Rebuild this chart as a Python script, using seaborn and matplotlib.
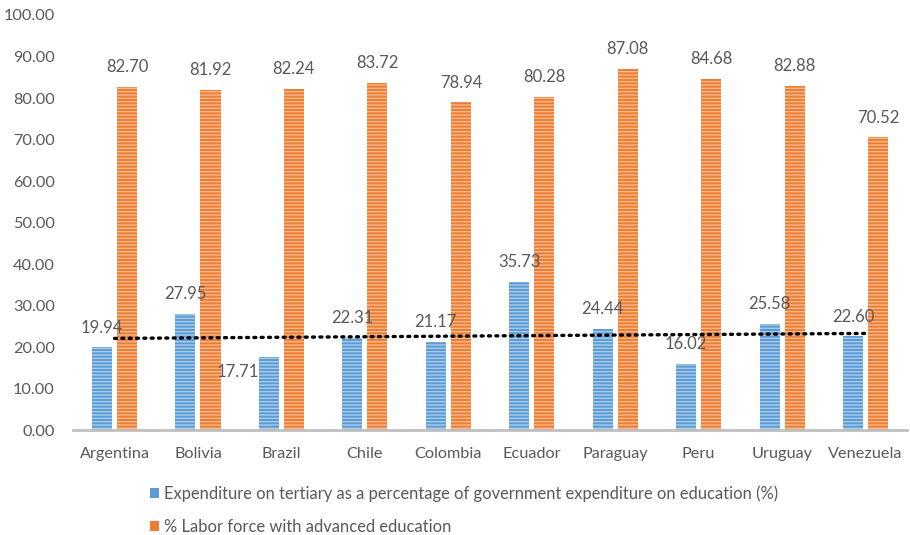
import numpy as np
import pandas as pd
import matplotlib
matplotlib.use("Agg")
import matplotlib.pyplot as plt
from matplotlib.patches import Patch
import seaborn as sns

countries = ["Argentina", "Bolivia", "Brazil", "Chile", "Colombia",
             "Ecuador", "Paraguay", "Peru", "Uruguay", "Venezuela"]
tertiary_spend = [19.94, 27.95, 17.71, 22.31, 21.17, 35.73, 24.44, 16.02, 25.58, 22.60]
labor_advanced = [82.70, 81.92, 82.24, 83.72, 78.94, 80.28, 87.08, 84.68, 82.88, 70.52]
# linear trend of the expenditure series at the first and last country
trend_ends = [22.1, 23.3]
series_names = ["Expenditure on tertiary as a percentage of government expenditure on education (%)",
                "% Labor force with advanced education"]
y_ticks = [0, 10, 20, 30, 40, 50, 60, 70, 80, 90, 100]

BLUE, BLUE_STRIPE = "#5B9BD5", "#A9CBEA"
ORANGE, ORANGE_STRIPE = "#ED7D31", "#F7B98E"
TEXT = "#595959"

sns.set_theme(style="white")
plt.rcParams["font.family"] = ["Lato", "DejaVu Sans"]
plt.rcParams["hatch.linewidth"] = 1.0

df = pd.DataFrame({
    "country": countries * 2,
    "value": tertiary_spend + labor_advanced,
    "series": [series_names[0]] * len(countries) + [series_names[1]] * len(countries),
})

fig = plt.figure(figsize=(9.10, 5.35), dpi=100)
ax = fig.add_axes([0.080, 0.196, 0.917, 0.776])

sns.barplot(data=df, x="country", y="value", hue="series", order=countries,
            hue_order=series_names, palette=[BLUE, ORANGE], width=0.6, gap=0.2,
            legend=False, ax=ax, saturation=1, errorbar=None)

# striped fill for each series
for cont, stripe in zip(ax.containers, [BLUE_STRIPE, ORANGE_STRIPE]):
    for bar in cont:
        bar.set_hatch("-----")
        bar.set_edgecolor(stripe)
        bar.set_linewidth(0)

# value labels
for ci, cont in enumerate(ax.containers):
    values = tertiary_spend if ci == 0 else labor_advanced
    for bar, v in zip(cont, values):
        cx = bar.get_x() + bar.get_width() / 2
        if ci == 0 and v == 17.71:
            ax.annotate(f"{v:.2f}", (bar.get_x(), v), xytext=(0, -11),
                        textcoords="offset points", ha="right", va="center",
                        fontsize=12, color=TEXT)
        else:
            ax.annotate(f"{v:.2f}", (cx, v), xytext=(0, 8.5),
                        textcoords="offset points", ha="center", va="bottom",
                        fontsize=12, color=TEXT)

# dotted trend line across the categories
ax.plot([0, len(countries) - 1], trend_ends, color="black", lw=2.4,
        linestyle=(0, (0.6, 1.6)), dash_capstyle="round", zorder=5)

ax.set_ylim(0, 100)
ax.set_xlim(-0.5, len(countries) - 0.5)
ax.set_yticks(y_ticks)
ax.set_yticklabels([f"{t:.2f}" for t in y_ticks])
ax.set_xlabel("")
ax.set_ylabel("")
ax.tick_params(axis="both", length=0, labelsize=11.7, colors=TEXT)
ax.tick_params(axis="y", pad=13)
ax.tick_params(axis="x", pad=12)
for s in ["top", "right", "left"]:
    ax.spines[s].set_visible(False)
ax.spines["bottom"].set_color("#BFBFBF")
ax.spines["bottom"].set_linewidth(2)

handles = [Patch(facecolor=BLUE, lw=0), Patch(facecolor=ORANGE, lw=0)]
fig.legend(handles, series_names, loc="upper left", bbox_to_anchor=(0.165, 0.093),
           ncol=1, frameon=False, fontsize=11.9, labelcolor=TEXT,
           handlelength=0.55, handleheight=0.55, handletextpad=0.3,
           labelspacing=1.05, borderaxespad=0, borderpad=0)

fig.savefig("out.png", dpi=100, facecolor="white")
